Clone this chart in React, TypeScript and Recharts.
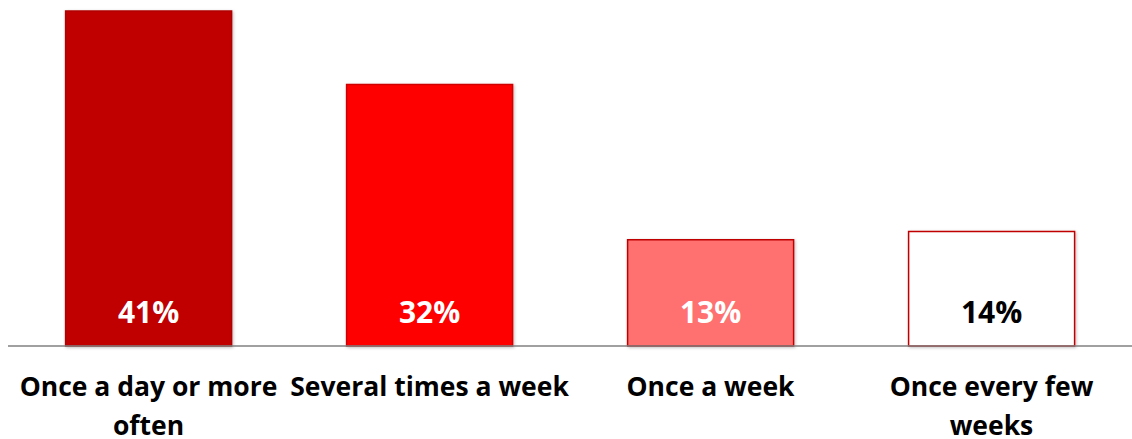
import React from "react";
import { BarChart, Bar, XAxis, YAxis, Cell, LabelList } from "recharts";

const categories = ["Once a day or more\noften", "Several times a week", "Once a week", "Once every few\nweeks"];
const values = [41, 32, 13, 14];
const valueLabels = ["41%", "32%", "13%", "14%"];
const fills = ["#C00000", "#FF0000", "#FF7070", "#FFFFFF"];
const strokes = ["#B00000", "#D00000", "#C00000", "#C00000"];
const labelColors = ["#FFFFFF", "#FFFFFF", "#FFFFFF", "#000000"];

const data = categories.map((c, i) => ({ name: c, value: values[i], label: valueLabels[i] }));

const FONT = "'Open Sans', Lato, sans-serif";

const Tick = (props: any) => {
  const { x, y, payload } = props;
  const lines = String(payload.value).split("\n");
  return (
    <g>
      {lines.map((l: string, i: number) => (
        <text key={i} x={x} y={y + 42 + i * 39} textAnchor="middle" fontFamily={FONT} fontWeight={700} fontSize={26.5} fill="#000">
          {l}
        </text>
      ))}
    </g>
  );
};

const ValueLabel = (props: any) => {
  const { x, y, width, height, index } = props;
  return (
    <text x={x + width / 2} y={y + height - 23} textAnchor="middle" fontFamily={FONT} fontWeight={700} fontSize={30} fill={labelColors[index]}>
      {valueLabels[index]}
    </text>
  );
};

export default function App() {
  return (
    <div style={{ position: "absolute", left: 0, top: 0, background: "#fff" }}>
      <BarChart width={1132} height={439} data={data} margin={{ top: 11, right: 0, left: 8, bottom: 0 }} barCategoryGap="20.5%">
        <defs>
          <filter id="sh" x="-10%" y="-10%" width="120%" height="120%">
            <feDropShadow dx="1" dy="1" stdDeviation="1.5" floodColor="#000" floodOpacity="0.25" />
          </filter>
        </defs>
        <YAxis hide domain={[0, 41]} />
        <XAxis dataKey="name" axisLine={{ stroke: "#808080", strokeWidth: 1.5 }} tickLine={false} height={93} interval={0} tick={<Tick />} />
        <Bar dataKey="value" isAnimationActive={false} strokeWidth={1.5} style={{ filter: "url(#sh)" }}>
          {data.map((d, i) => (
            <Cell key={i} fill={fills[i]} stroke={strokes[i]} />
          ))}
          <LabelList dataKey="label" content={<ValueLabel />} />
        </Bar>
      </BarChart>
    </div>
  );
}
